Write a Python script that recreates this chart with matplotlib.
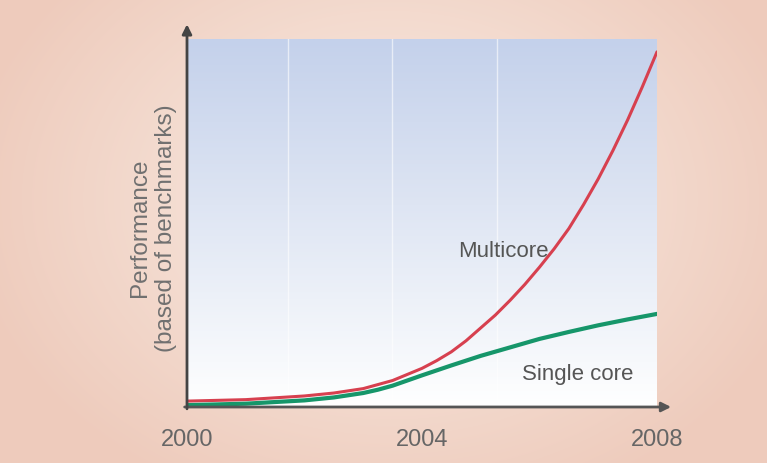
import numpy as np
import matplotlib.pyplot as plt
from matplotlib.colors import LinearSegmentedColormap

# data (performance, 0..100 = bottom..top of plot box)
years_multi = [2000, 2001, 2002, 2002.5, 2003, 2003.5, 2004, 2004.25, 2004.5,
               2004.75, 2005, 2005.25, 2005.5, 2005.75, 2006, 2006.25, 2006.5,
               2006.75, 2007, 2007.25, 2007.5, 2007.75, 2008]
multicore = [1.6, 2.0, 3.0, 3.8, 5.0, 7.2, 10.5, 12.6, 15.0,
             18.0, 21.5, 25.0, 29.0, 33.3, 38.0, 43.0, 48.5,
             55.0, 62.0, 69.7, 78.0, 87.0, 96.5]
years_single = [2000, 2001, 2002, 2002.5, 2003, 2003.25, 2003.5, 2003.75,
                2004, 2004.5, 2005, 2005.5, 2006, 2006.5, 2007, 2007.5, 2008]
single_core = [0.5, 0.9, 1.8, 2.6, 3.8, 4.7, 5.8, 7.2,
               8.6, 11.3, 13.9, 16.2, 18.5, 20.4, 22.2, 23.8, 25.3]
tick_years = [2000, 2004, 2008]
tick_labels = ["2000", "2004", "2008"]
grid_years = [2001.72, 2003.49, 2005.28]

narrow = ["Liberation Sans Narrow", "Liberation Sans", "DejaVu Sans"]
regular = ["Liberation Sans", "DejaVu Sans"]

fig = plt.figure(figsize=(7.67, 4.64), dpi=100)

# peach radial background
bg = fig.add_axes([0, 0, 1, 1], zorder=0)
yy, xx = np.mgrid[0:464, 0:767]
r = np.sqrt(((xx - 390) / 430.0) ** 2 + ((yy - 200) / 330.0) ** 2)
r = np.clip(r, 0, 1)
c_in = np.array([250, 238, 230]) / 255.0
c_out = np.array([238, 203, 188]) / 255.0
img = c_in[None, None, :] * (1 - r[..., None]) + c_out[None, None, :] * r[..., None]
bg.imshow(img, aspect="auto", extent=[0, 1, 0, 1])
bg.axis("off")

ax = fig.add_axes([187 / 767, 56 / 464, 470 / 767, 368 / 464], zorder=1)
ax.set_facecolor("none")

# blue-to-white fill of the plot box
grad = LinearSegmentedColormap.from_list(
    "bw", [(0, "#ffffff"), (0.12, "#f7f9fc"), (0.55, "#dee5f3"), (1, "#c4d1eb")])
ax.imshow(np.linspace(0, 1, 256)[:, None], cmap=grad, origin="lower",
          extent=[2000, 2008, 0, 100], aspect="auto", zorder=0)

for g in grid_years:
    ax.axvline(g, color="white", lw=1, alpha=0.6, zorder=1)

ax.plot(years_multi, multicore, color="#d7404f", lw=2.2, zorder=3,
        solid_capstyle="round", solid_joinstyle="round")
ax.plot(years_single, single_core, color="#16966a", lw=3.0, zorder=4,
        solid_capstyle="round", solid_joinstyle="round")

ax.set_xlim(2000, 2008)
ax.set_ylim(0, 100)
for s in ax.spines.values():
    s.set_visible(False)
ax.set_yticks([])
ax.set_xticks(tick_years)
ax.set_xticklabels(tick_labels, family=narrow, fontsize=17, color="#666666")
ax.tick_params(axis="x", length=0, pad=15)

# axes with arrow heads
ax.annotate("", xy=(1.03, 0), xytext=(-0.005, 0), xycoords="axes fraction",
            arrowprops=dict(arrowstyle="-|>", color="#555555", lw=2,
                            mutation_scale=14, shrinkA=0, shrinkB=0),
            annotation_clip=False, zorder=5)
ax.annotate("", xy=(0, 1.04), xytext=(0, -0.005), xycoords="axes fraction",
            arrowprops=dict(arrowstyle="-|>", color="#444444", lw=2,
                            mutation_scale=14, shrinkA=0, shrinkB=0),
            annotation_clip=False, zorder=5)

ax.text(2005.38, 42.5, "Multicore", family=narrow, fontsize=16,
        color="#555555", ha="center", va="center", zorder=6)
ax.text(2006.65, 9, "Single core", family=narrow, fontsize=16,
        color="#555555", ha="center", va="center", zorder=6)

fig.text(153 / 767, 1 - 228 / 464, "Performance\n(based of benchmarks)",
         family=regular, fontsize=17.5, color="#707070", rotation=90,
         ha="center", va="center", linespacing=1.2, multialignment="center")

fig.savefig("out.png", dpi=100)
